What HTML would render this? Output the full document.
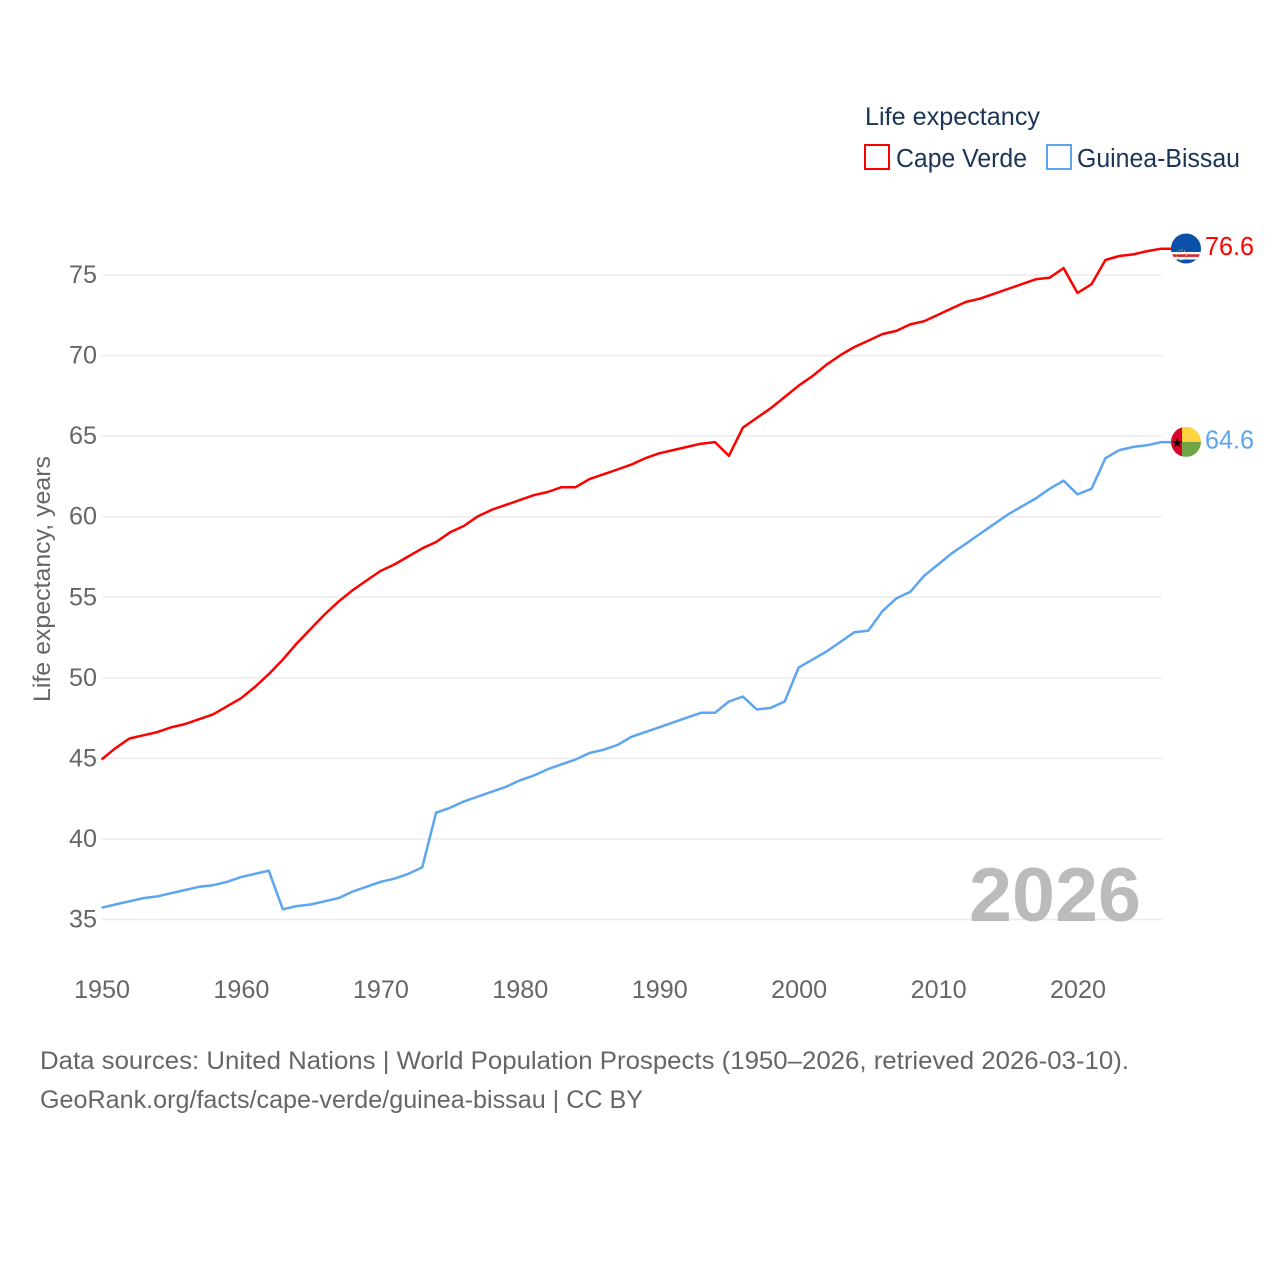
<!DOCTYPE html>
<html lang="en">
<head>
<meta charset="utf-8">
<title>Life expectancy: Cape Verde and Guinea-Bissau</title>
<style>
html,body{margin:0;padding:0;background:#fff;width:1280px;height:1280px;overflow:hidden}
svg{display:block}
text{font-family:"Liberation Sans",sans-serif}
</style>
</head>
<body>
<svg id="chart" width="1280" height="1280" viewBox="0 0 1280 1280" xmlns="http://www.w3.org/2000/svg">
  <defs>
    <clipPath id="flag-clip"><circle cx="0" cy="0" r="15"></circle></clipPath>
  </defs>
  <g id="grid"></g>
  <g id="y-ticks"></g>
  <g id="x-ticks"></g>
  <text x="0" y="0" transform="translate(50,579) rotate(-90)" text-anchor="middle" font-size="24.5" fill="#666" textLength="246" lengthAdjust="spacingAndGlyphs">Life expectancy, years</text>
  <text x="1141" y="921" text-anchor="end" font-size="76" font-weight="700" fill="#bbb" textLength="172" lengthAdjust="spacingAndGlyphs">2026</text>
  <g id="series" transform="translate(-0.5,-0.5)"></g>

  <g id="flag-cv">
    <g clip-path="url(#flag-clip)">
      <rect x="-15" y="-15" width="30" height="30" fill="#0a50a8"></rect>
      <rect x="-15" y="3.5" width="30" height="7.5" fill="#fff"></rect>
      <rect x="-15" y="5.8" width="30" height="2.6" fill="#d8232f"></rect>
      <circle cx="-4.5" cy="6.5" r="5" fill="none" stroke="#e8cf5a" stroke-width="1" stroke-dasharray="1.2 1.4"></circle>
    </g>
  </g>
  <g id="flag-gw">
    <g clip-path="url(#flag-clip)">
      <rect x="-15" y="-15" width="11" height="30" fill="#d9042b"></rect>
      <rect x="-4" y="-15" width="19" height="15" fill="#ffd33f"></rect>
      <rect x="-4" y="0" width="19" height="15" fill="#6fa544"></rect>
      <text x="-8.8" y="5" text-anchor="middle" font-size="13" fill="#000" font-family="DejaVu Sans">★</text>
    </g>
  </g>
  <g id="end-labels"></g>

  <g>
    <text x="865" y="125" font-size="25" fill="#1a3555" textLength="175" lengthAdjust="spacingAndGlyphs">Life expectancy</text>
    <g>
      <rect x="865" y="145" width="24" height="24" fill="#fff" stroke="#ff0000" stroke-width="2"></rect>
      <text x="896" y="167" font-size="25.5" fill="#1a3555" textLength="131" lengthAdjust="spacingAndGlyphs">Cape Verde</text>
    </g>
    <g>
      <rect x="1047" y="145" width="24" height="24" fill="#fff" stroke="#5da5ee" stroke-width="2"></rect>
      <text x="1077" y="167" font-size="25.5" fill="#1a3555" textLength="163" lengthAdjust="spacingAndGlyphs">Guinea-Bissau</text>
    </g>
  </g>

  <text x="40" y="1069" font-size="25" fill="#666" textLength="1089" lengthAdjust="spacingAndGlyphs">Data sources: United Nations | World Population Prospects (1950–2026, retrieved 2026-03-10).</text>
  <text x="40" y="1108" font-size="25" fill="#666" textLength="603" lengthAdjust="spacingAndGlyphs">GeoRank.org/facts/cape-verde/guinea-bissau | CC BY</text>
</svg>
<script>
const years = [1950,1951,1952,1953,1954,1955,1956,1957,1958,1959,1960,1961,1962,1963,1964,1965,1966,1967,1968,1969,1970,1971,1972,1973,1974,1975,1976,1977,1978,1979,1980,1981,1982,1983,1984,1985,1986,1987,1988,1989,1990,1991,1992,1993,1994,1995,1996,1997,1998,1999,2000,2001,2002,2003,2004,2005,2006,2007,2008,2009,2010,2011,2012,2013,2014,2015,2016,2017,2018,2019,2020,2021,2022,2023,2024,2025,2026];
const capeVerde = [44.9,45.6,46.2,46.4,46.6,46.9,47.1,47.4,47.7,48.2,48.7,49.4,50.2,51.1,52.1,53.0,53.9,54.7,55.4,56.0,56.6,57.0,57.5,58.0,58.4,59.0,59.4,60.0,60.4,60.7,61.0,61.3,61.5,61.8,61.8,62.3,62.6,62.9,63.2,63.6,63.9,64.1,64.3,64.5,64.6,63.75,65.5,66.1,66.7,67.4,68.1,68.7,69.4,70.0,70.5,70.9,71.3,71.5,71.9,72.1,72.5,72.9,73.3,73.5,73.8,74.1,74.4,74.7,74.8,75.4,73.85,74.4,75.9,76.15,76.25,76.45,76.6];
const guineaBissau = [35.7,35.9,36.1,36.3,36.4,36.6,36.8,37.0,37.1,37.3,37.6,37.8,38.0,35.6,35.8,35.9,36.1,36.3,36.7,37.0,37.3,37.5,37.8,38.2,41.6,41.9,42.3,42.6,42.9,43.2,43.6,43.9,44.3,44.6,44.9,45.3,45.5,45.8,46.3,46.6,46.9,47.2,47.5,47.8,47.8,48.5,48.8,48.0,48.1,48.5,50.6,51.1,51.6,52.2,52.8,52.9,54.1,54.9,55.3,56.3,57.0,57.7,58.3,58.9,59.5,60.1,60.6,61.1,61.7,62.2,61.35,61.7,63.6,64.1,64.3,64.4,64.6];
const yTicks = [35,40,45,50,55,60,65,70,75];
const xTicks = [1950,1960,1970,1980,1990,2000,2010,2020];

const NS = 'http://www.w3.org/2000/svg';
const xScale = function (year) { return 102 + (year - 1950) * 13.943; };
const yScale = function (value) { return 919.5 - (value - 35) * 16.1125; };

function make(tag, attrs, text) {
  const el = document.createElementNS(NS, tag);
  Object.keys(attrs).forEach(function (k) { el.setAttribute(k, attrs[k]); });
  if (text !== undefined) el.textContent = text;
  return el;
}

const gridGroup = document.getElementById('grid');
const yGroup = document.getElementById('y-ticks');
yTicks.forEach(function (t) {
  const line = make('line', {x1: 102, x2: 1162, y1: yScale(t), y2: yScale(t), stroke: '#ebebeb', 'stroke-width': 1.5});
  
  
  gridGroup.appendChild(line);
  const label = make('text', {x: 97, y: yScale(t) + 8, 'text-anchor': 'end', 'font-size': 25, fill: '#666', textLength: 28, lengthAdjust: 'spacingAndGlyphs'}, String(t));
  
  
  yGroup.appendChild(label);
});

const xGroup = document.getElementById('x-ticks');
xTicks.forEach(function (t) {
  const label = make('text', {x: xScale(t), y: 998, 'text-anchor': 'middle', 'font-size': 25, fill: '#666', textLength: 56, lengthAdjust: 'spacingAndGlyphs'}, String(t));
  
  
  xGroup.appendChild(label);
});

const seriesGroup = document.getElementById('series');
const labelGroup = document.getElementById('end-labels');
function drawSeries(values, color, name, flagId) {
  const pts = values.map(function (v, i) { return xScale(years[i]).toFixed(1) + ',' + yScale(v).toFixed(1); });
  const lastY = yScale(values[values.length - 1]);
  pts.push('1172,' + lastY.toFixed(1));
  const line = make('polyline', {points: pts.join(' '), fill: 'none', stroke: color, 'stroke-width': 2.5, 'stroke-linejoin': 'round'});
  
  
  seriesGroup.appendChild(line);
  document.getElementById(flagId).setAttribute('transform', 'translate(1186,' + (lastY - 0.7).toFixed(1) + ')');
  const label = make('text', {x: 1205, y: lastY + 6, 'font-size': 25.5, fill: color, textLength: 49, lengthAdjust: 'spacingAndGlyphs'}, values[values.length - 1].toFixed(1));
  
  
  labelGroup.appendChild(label);
}
drawSeries(capeVerde, '#ff0000', 'cape-verde', 'flag-cv');
drawSeries(guineaBissau, '#5da5ee', 'guinea-bissau', 'flag-gw');
</script>
</body>
</html>
